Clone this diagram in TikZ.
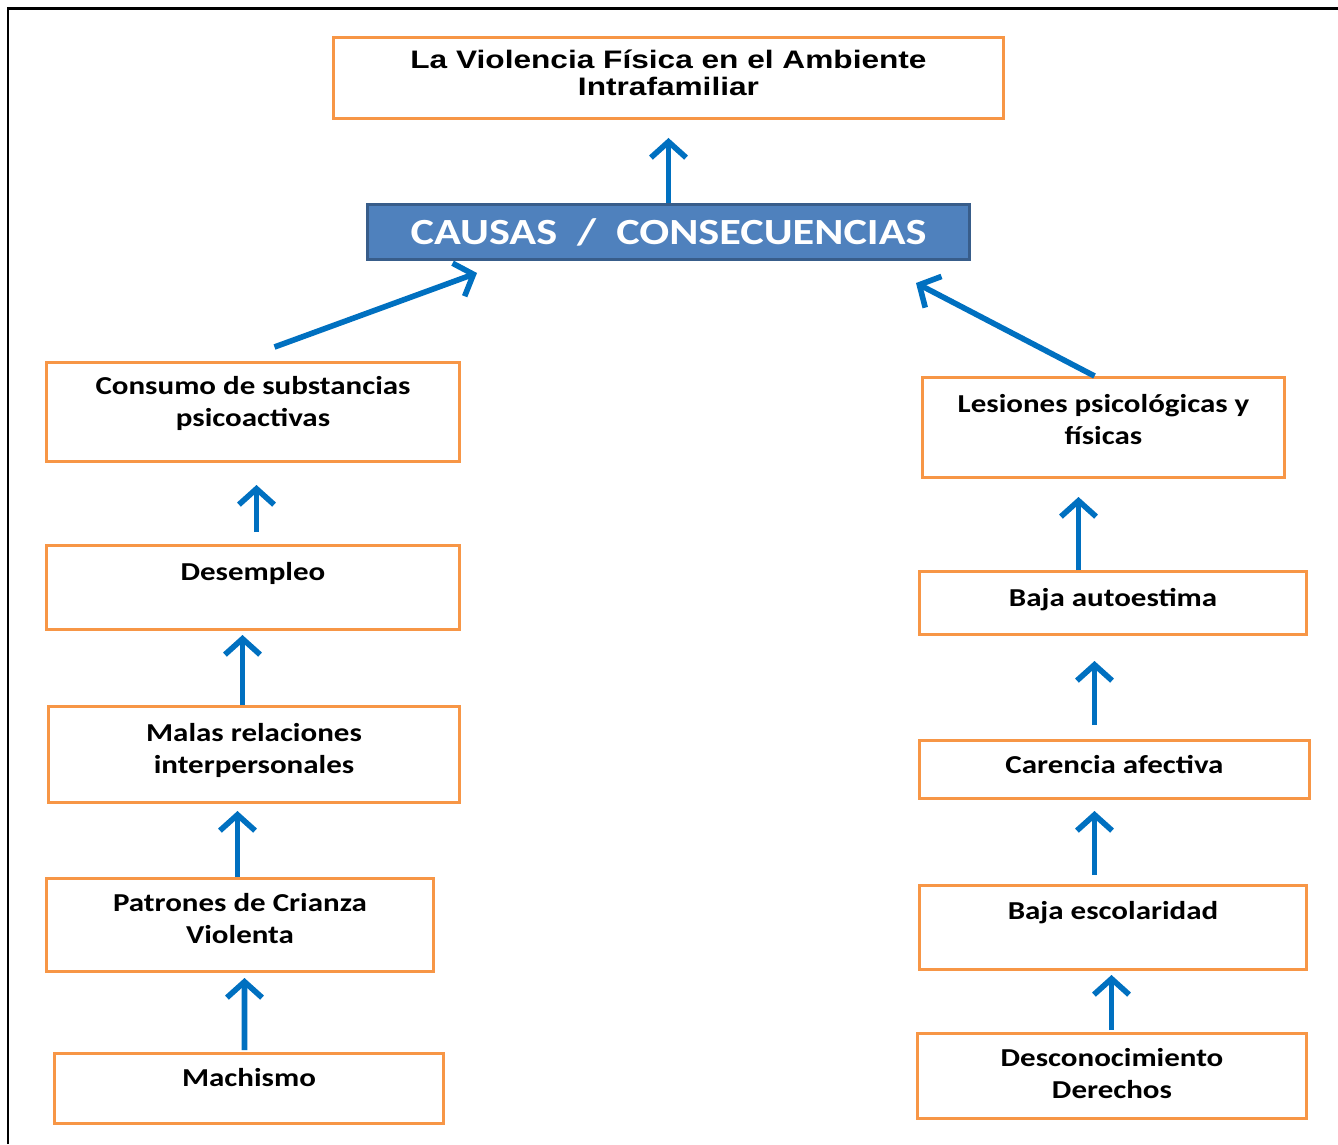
\documentclass[tikz,border=0pt]{standalone}
\usepackage{fontspec}
\usetikzlibrary{arrows.meta,calc}
\newfontfamily\cajafont[FakeStretch=1.2]{Carlito}
\newfontfamily\titulofont[FakeStretch=1.25]{Liberation Sans}
\definecolor{naranja}{HTML}{F79646}
\definecolor{azulcaja}{HTML}{4F81BD}
\definecolor{azulborde}{HTML}{385D8A}
\definecolor{azulflecha}{HTML}{0070C0}
\tikzset{
  caja/.style n args={3}{draw=naranja, line width=1.7pt, anchor=north west, align=center,
    inner sep=0pt, minimum width=#1*0.02cm, text height=#3*0.02cm, text depth=(#2-#3)*0.02cm,
    font=\cajafont\bfseries\fontsize{14.7}{18.1}\selectfont},
  flecha/.style={azulflecha, line width=3.2pt, -{Straight Barb[length=9pt,width=20pt]}}
}
\begin{document}
\begin{tikzpicture}[x=0.02cm,y=-0.02cm]
\useasboundingbox (0,0) rectangle (1338,1144);
\draw[line width=1.7pt] (8,1144) -- (8,8) -- (1338,8);
\node[caja={670}{81}{58}, font=\titulofont\bfseries\fontsize{14.4}{15.3}\selectfont] (titulo) at (332,36) {La Violencia Física en el Ambiente\\Intrafamiliar};
\node[draw=azulborde, fill=azulcaja, line width=1.7pt, anchor=north west, minimum width=602*0.02cm, minimum height=55*0.02cm,
  text=white, font=\cajafont\bfseries\fontsize{21}{24}\selectfont] (causas) at (366,203) {CAUSAS\ \ /\ \ CONSECUENCIAS};
\node[caja={413}{99}{64}] (consumo) at (45,361) {Consumo de substancias\\psicoactivas};
\node[caja={413}{84}{35}] (desempleo) at (45,544) {Desempleo};
\node[caja={411}{96}{67}] (malas) at (47,705) {Malas relaciones\\interpersonales};
\node[caja={387}{93}{65}] (patrones) at (45,877) {Patrones de Crianza\\Violenta};
\node[caja={389}{70}{33}] (machismo) at (53,1052) {Machismo};
\node[caja={362}{100}{67}] (lesiones) at (921,376) {Lesiones psicológicas y\\físicas};
\node[caja={387}{63}{35}] (autoestima) at (918,570) {Baja autoestima};
\node[caja={390}{58}{33}] (carencia) at (918,739) {Carencia afectiva};
\node[caja={387}{84}{34}] (escolaridad) at (918,884) {Baja escolaridad};
\node[caja={389}{85}{65}] (desconocimiento) at (916,1032) {Desconocimiento\\Derechos};
\draw[flecha] (causas.north) -- ($(titulo.south)+(0,18)$);
\draw[flecha] ($(consumo.north)+(21.5,-14)$) -- ($(causas.south west)+(111,12)$);
\draw[flecha] ($(lesiones.north)+(-9,0)$) -- ($(causas.south east)+(-55,22)$);
\draw[flecha] ($(desempleo.north)+(3.5,-12)$) -- ($(consumo.south)+(3.5,22)$);
\draw[flecha] ($(malas.north)+(-11.5,0)$) -- ($(desempleo.south)+(-10.5,4)$);
\draw[flecha] ($(patrones.north)+(-2.5,0)$) -- ($(malas.south)+(-16.5,7)$);
\draw[flecha] ($(machismo.north)+(-4.5,-2)$) -- ($(patrones.south)+(4.5,5)$);
\draw[flecha] ($(autoestima.north)+(-34.5,0)$) -- ($(lesiones.south)+(-25,18)$);
\draw[flecha] ($(carencia.north)+(-20,-14)$) -- ($(autoestima.south)+(-18.5,25)$);
\draw[flecha] ($(escolaridad.north)+(-18.5,-9)$) -- ($(carencia.south)+(-20,11)$);
\draw[flecha] ($(desconocimiento.north)+(-0.5,-2)$) -- ($(escolaridad.south)+(-1.5,4)$);
\end{tikzpicture}
\end{document}
